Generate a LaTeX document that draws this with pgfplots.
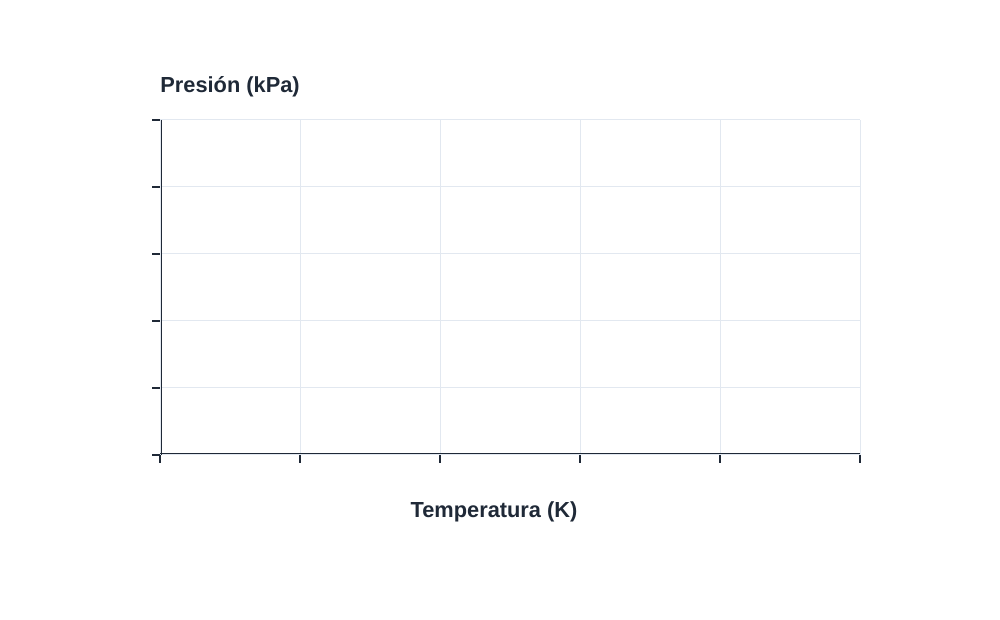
\documentclass[border=0pt]{standalone}
\usepackage{pgfplots}
\pgfplotsset{compat=1.18}
\usepackage{fontspec}
\setmainfont{Liberation Sans}
\definecolor{ink}{HTML}{1F2937}
\definecolor{gridc}{HTML}{E2E8F0}
\begin{document}
\begin{tikzpicture}
\fill[white] (0,0) rectangle (500pt,310pt);
\path[use as bounding box] (0,0) rectangle (500pt,310pt);
\begin{axis}[
  scale only axis,
  width=350pt, height=167.5pt,
  at={(80pt,82.5pt)}, anchor=south west,
  xmin=0, xmax=5, ymin=0, ymax=5,
  xtick={0,1,2,3,4,5}, ytick={0,1,2,3,4,5},
  xticklabels={}, yticklabels={},
  grid=major,
  major grid style={gridc, line width=0.5pt},
  axis line style={draw=none},
  tick align=outside,
  major tick length=4pt,
  tick style={ink, line width=1pt},
  xtick pos=bottom, ytick pos=left,
]
\addplot[draw=none, forget plot] coordinates {(0,0)};
\draw[ink, line width=0.6pt] ([xshift=-0.7pt]rel axis cs:0,0) -- ([xshift=-0.7pt]rel axis cs:0,1);
\draw[ink, line width=0.6pt] ([xshift=0.7pt]rel axis cs:0,0) -- ([xshift=0.7pt]rel axis cs:0,1);
\draw[ink, line width=0.6pt] ([yshift=-0.7pt]rel axis cs:0,0) -- ([yshift=-0.7pt]rel axis cs:1,0);
\draw[ink, line width=0.6pt] ([yshift=0.7pt]rel axis cs:0,0) -- ([yshift=0.7pt]rel axis cs:1,0);
\end{axis}
\node[anchor=west, inner sep=0pt, text=ink, font=\fontsize{10.9}{12}\selectfont\bfseries] at (80pt,266.5pt) {Presión (kPa)};
\node[anchor=center, inner sep=0pt, text=ink, font=\fontsize{10.9}{12}\selectfont\bfseries] at (247pt,54pt) {Temperatura (K)};
\end{tikzpicture}
\end{document}
